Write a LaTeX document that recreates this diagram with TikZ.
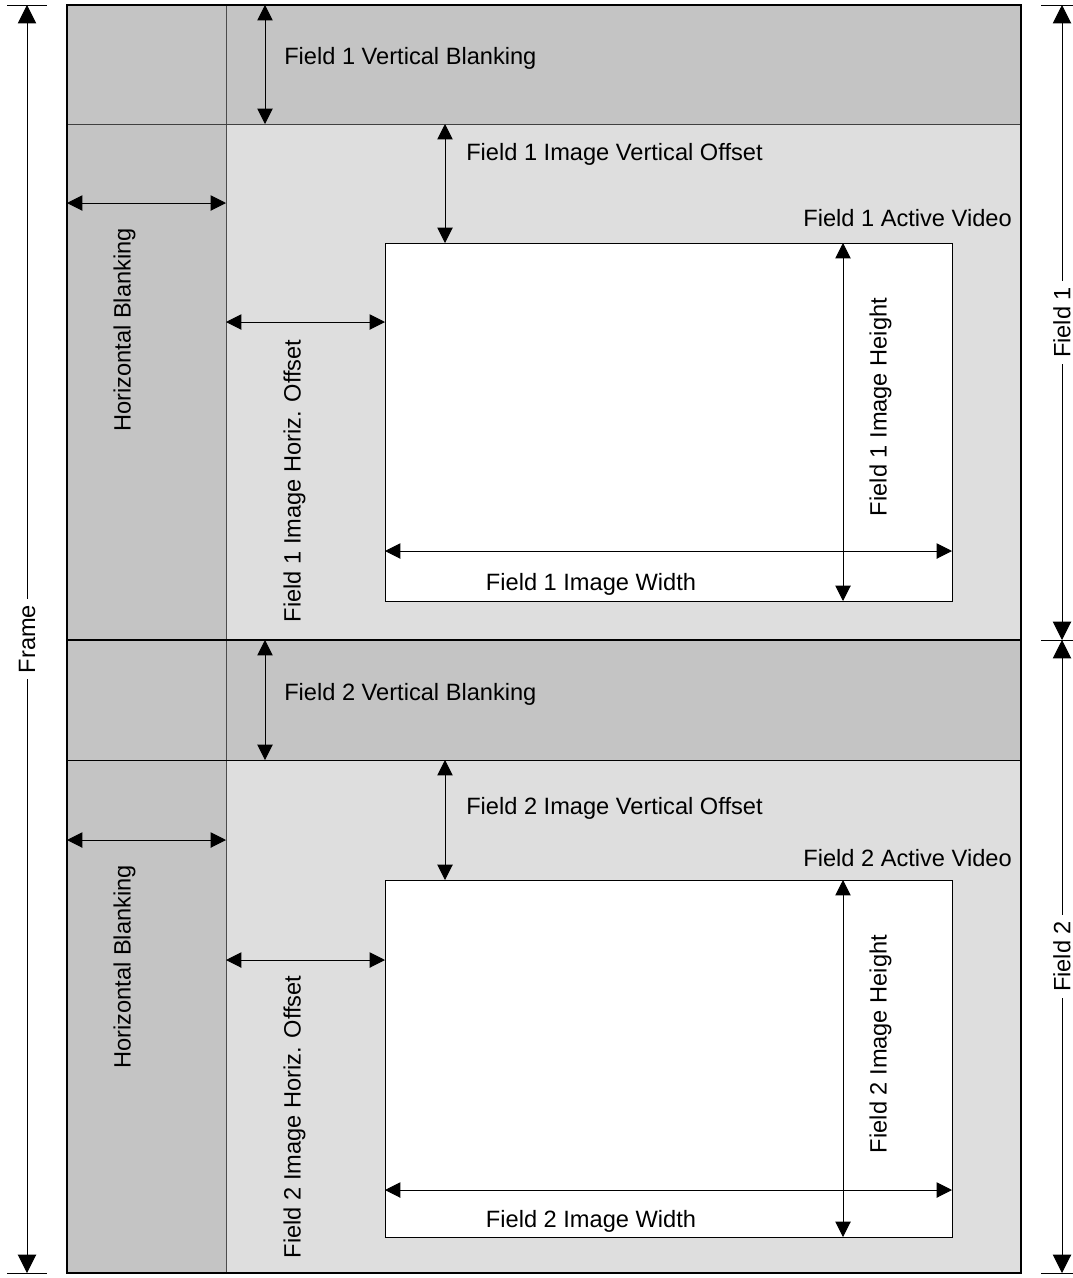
\documentclass[tikz,border=0pt]{standalone}
\usepackage{fontspec}
\setmainfont{Liberation Sans}
\usetikzlibrary{arrows.meta,calc}

\definecolor{blankgray}{HTML}{C4C4C4}
\definecolor{imggray}{HTML}{DEDEDE}

\begin{document}
\begin{tikzpicture}[x=0.025cm, y=-0.025cm,
    dim/.style={<->, >={Triangle[length=11pt,width=11pt]}, line width=0.7pt},
    bigdim/.style={<->, >={Triangle[length=13pt,width=13pt]}, line width=0.7pt},
    lbl/.style={font=\fontsize{16.8}{20}\selectfont, inner sep=0pt},
    gap/.style={lbl, rotate=90, fill=white, inner sep=4pt},
    tick/.style={line width=0.7pt}
  ]
    \useasboundingbox (0,0) rectangle (1073,1278);
    \clip (0,0) rectangle (1073,1278);

    % key points
    \coordinate (frmNW) at (67,5);
    \coordinate (frmSE) at (1021,1273);
    \coordinate (hbTop) at (226,5);
    \coordinate (hbBot) at (226,1273);
    \coordinate (vb1W) at (67,124);
    \coordinate (vb1E) at (1021,124);
    \coordinate (midW) at (67,640);
    \coordinate (midE) at (1021,640);
    \coordinate (vb2W) at (67,760);
    \coordinate (vb2E) at (1021,760);
    \coordinate (act1NW) at (385,243);
    \coordinate (act1SE) at (952,601);
    \coordinate (act2NW) at (385,880);
    \coordinate (act2SE) at (952,1237);

    % blanking and image areas
    \fill[blankgray] (frmNW) rectangle (frmSE);
    \fill[imggray] (226,124) rectangle (midE);
    \fill[imggray] (226,760) rectangle (frmSE);
    \draw[line width=0.7pt, fill=white] (act1NW) rectangle (act1SE);
    \draw[line width=0.7pt, fill=white] (act2NW) rectangle (act2SE);
    \draw[line width=0.7pt, black!70] (hbTop) -- (hbBot);
    \draw[line width=0.7pt, black!75] (vb1W) -- (vb1E);
    \draw[line width=0.7pt] (vb2W) -- (vb2E);
    \draw[line width=2pt] (midW) -- (midE);
    \draw[line width=2pt] (frmNW) rectangle (frmSE);

    % frame and field extents
    \coordinate (frmTop) at (27,5);
    \coordinate (frmBot) at (27,1273);
    \draw[tick] ($(frmTop)+(-20,0)$) -- ($(frmTop)+(20,0)$);
    \draw[tick] ($(frmBot)+(-20,0)$) -- ($(frmBot)+(20,0)$);
    \draw[bigdim] (frmTop) -- node[gap] (frmlbl) {Frame} (frmBot);

    \coordinate (fldTop) at (1062,5);
    \coordinate (fldMid) at (1062,640);
    \coordinate (fldBot) at (1062,1273);
    \draw[tick] ($(fldTop)+(-21,0)$) -- ($(fldTop)+(21,0)$);
    \draw[tick] ($(fldMid)+(-21,0)$) -- ($(fldMid)+(21,0)$);
    \draw[tick] ($(fldBot)+(-21,0)$) -- ($(fldBot)+(21,0)$);
    \draw[bigdim] (fldTop) -- node[gap] (fld1lbl) {Field 1} (fldMid);
    \draw[bigdim] (fldMid) -- node[gap] (fld2lbl) {Field 2} (fldBot);

    % field 1
    \draw[dim] (265,5 |- frmNW) -- (265,0 |- vb1W);
    \node[lbl, anchor=base west] (vb1lbl) at (284,64.5) {Field 1 Vertical Blanking};
    \draw[dim] (frmNW |- 0,203) -- (hbTop |- 0,203);
    \node[lbl, rotate=90, anchor=base] (hb1lbl) at (130.5,330) {Horizontal Blanking};
    \draw[dim] (445,0 |- vb1W) -- (445,0 |- act1NW);
    \node[lbl, anchor=base west] (vo1lbl) at (466,160.5) {Field 1 Image Vertical Offset};
    \draw[dim] (hbTop |- 0,322) -- (act1NW |- 0,322);
    \node[lbl, rotate=90, anchor=base] (ho1lbl) at (300.5,481) {Field 1 Image Horiz. Offset};
    \node[lbl, anchor=base east] (av1lbl) at (1012,226.5) {Field 1 Active Video};
    \draw[dim] (843,0 |- act1NW) -- (843,0 |- act1SE);
    \node[lbl, rotate=90, anchor=base] (ih1lbl) at (886.5,407) {Field 1 Image Height};
    \draw[dim] (act1NW |- 0,551) -- (act1SE |- 0,551);
    \node[lbl, anchor=base] (iw1lbl) at (591,590.5) {Field 1 Image Width};

    % field 2
    \draw[dim] (265,0 |- midW) -- (265,0 |- vb2W);
    \node[lbl, anchor=base west] (vb2lbl) at (284,700.5) {Field 2 Vertical Blanking};
    \draw[dim] (frmNW |- 0,840) -- (hbTop |- 0,840);
    \node[lbl, rotate=90, anchor=base] (hb2lbl) at (130.5,967) {Horizontal Blanking};
    \draw[dim] (445,0 |- vb2W) -- (445,0 |- act2NW);
    \node[lbl, anchor=base west] (vo2lbl) at (466,814.5) {Field 2 Image Vertical Offset};
    \draw[dim] (hbTop |- 0,960) -- (act2NW |- 0,960);
    \node[lbl, rotate=90, anchor=base] (ho2lbl) at (300.5,1117) {Field 2 Image Horiz. Offset};
    \node[lbl, anchor=base east] (av2lbl) at (1012,866.5) {Field 2 Active Video};
    \draw[dim] (843,0 |- act2NW) -- (843,0 |- act2SE);
    \node[lbl, rotate=90, anchor=base] (ih2lbl) at (886.5,1044) {Field 2 Image Height};
    \draw[dim] (act2NW |- 0,1190) -- (act2SE |- 0,1190);
    \node[lbl, anchor=base] (iw2lbl) at (591,1227.5) {Field 2 Image Width};
\end{tikzpicture}
\end{document}
